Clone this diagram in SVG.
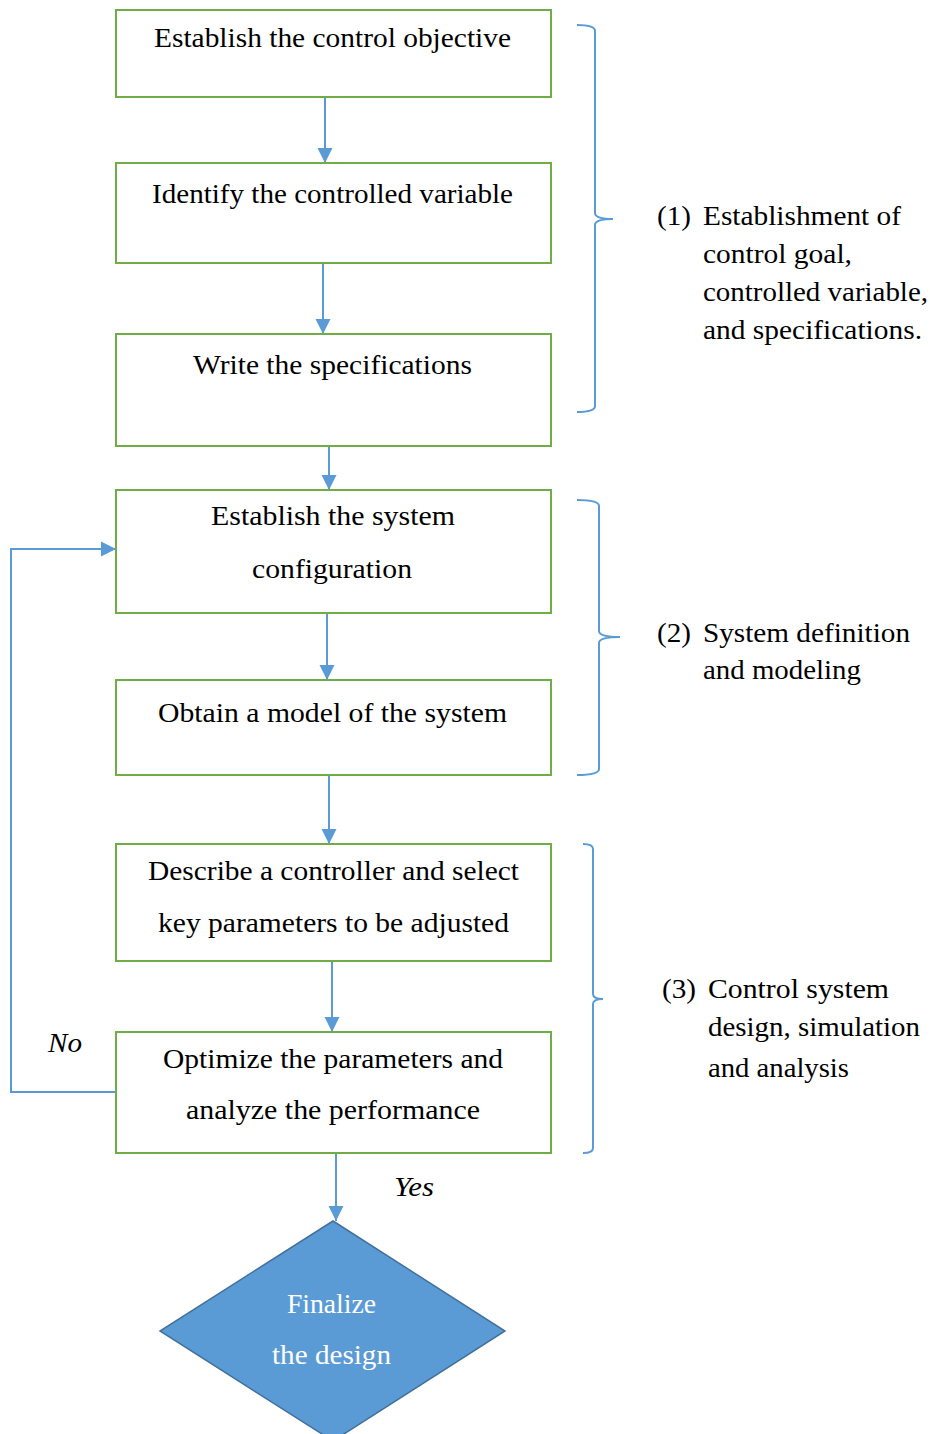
<svg xmlns="http://www.w3.org/2000/svg" width="930" height="1434" viewBox="0 0 930 1434">
<defs>
<style>
.box{fill:#fff;stroke:#70AD47;stroke-width:2}
text{font-family:'Liberation Serif','DejaVu Serif',serif}
.t{font-size:28px;fill:#000}
.lb{font-size:27px;fill:#000}
.it{font-size:27px;font-style:italic;fill:#000}
.wt{font-size:27px;fill:#fff}
.c{fill:none;stroke:#5B9BD5;stroke-width:2}
.br{fill:none;stroke:#5B9BD5;stroke-width:2}
</style>
<marker id="ah" markerWidth="16" markerHeight="16" viewBox="0 0 16 16" refX="15" refY="8" orient="auto" markerUnits="userSpaceOnUse">
<path d="M0,0.5 L15,8 L0,15.5 Z" fill="#5B9BD5"/>
</marker>
</defs>
<rect width="930" height="1434" fill="#fff"/>

<g id="connectors">
<line class="c" x1="325" y1="97" x2="325" y2="163" marker-end="url(#ah)"/>
<line class="c" x1="323" y1="263" x2="323" y2="334" marker-end="url(#ah)"/>
<line class="c" x1="329" y1="446" x2="329" y2="490" marker-end="url(#ah)"/>
<line class="c" x1="327" y1="613" x2="327" y2="680" marker-end="url(#ah)"/>
<line class="c" x1="329" y1="775" x2="329" y2="844" marker-end="url(#ah)"/>
<line class="c" x1="332" y1="961" x2="332" y2="1032" marker-end="url(#ah)"/>
<line class="c" x1="336" y1="1153" x2="336" y2="1221" marker-end="url(#ah)"/>
<polyline class="c" points="116,1092 11,1092 11,549 116,549" marker-end="url(#ah)"/>
<text class="it" font-family="Liberation Serif" x="48" y="1052" textLength="34" lengthAdjust="spacingAndGlyphs">No</text>
<text class="it" font-family="Liberation Serif" x="394" y="1196" textLength="40" lengthAdjust="spacingAndGlyphs">Yes</text>
</g>

<g id="n1">
<rect class="box" x="116" y="10" width="435" height="87"/>
<text class="t" font-family="Liberation Serif" x="154" y="47" textLength="357" lengthAdjust="spacingAndGlyphs">Establish the control objective</text>
</g>
<g id="n2">
<rect class="box" x="116" y="163" width="435" height="100"/>
<text class="t" font-family="Liberation Serif" x="152" y="203" textLength="361" lengthAdjust="spacingAndGlyphs">Identify the controlled variable</text>
</g>
<g id="n3">
<rect class="box" x="116" y="334" width="435" height="112"/>
<text class="t" font-family="Liberation Serif" x="193" y="374" textLength="279" lengthAdjust="spacingAndGlyphs">Write the specifications</text>
</g>
<g id="n4">
<rect class="box" x="116" y="490" width="435" height="123"/>
<text class="t" font-family="Liberation Serif" x="211" y="525" textLength="244" lengthAdjust="spacingAndGlyphs">Establish the system</text>
<text class="t" font-family="Liberation Serif" x="252" y="578" textLength="160" lengthAdjust="spacingAndGlyphs">configuration</text>
</g>
<g id="n5">
<rect class="box" x="116" y="680" width="435" height="95"/>
<text class="t" font-family="Liberation Serif" x="158" y="722" textLength="349" lengthAdjust="spacingAndGlyphs">Obtain a model of the system</text>
</g>
<g id="n6">
<rect class="box" x="116" y="844" width="435" height="117"/>
<text class="t" font-family="Liberation Serif" x="148" y="880" textLength="371" lengthAdjust="spacingAndGlyphs">Describe a controller and select</text>
<text class="t" font-family="Liberation Serif" x="158" y="932" textLength="351" lengthAdjust="spacingAndGlyphs">key parameters to be adjusted</text>
</g>
<g id="n7">
<rect class="box" x="116" y="1032" width="435" height="121"/>
<text class="t" font-family="Liberation Serif" x="163" y="1068" textLength="340" lengthAdjust="spacingAndGlyphs">Optimize  the parameters and</text>
<text class="t" font-family="Liberation Serif" x="186" y="1119" textLength="294" lengthAdjust="spacingAndGlyphs">analyze the performance</text>
</g>
<g id="n8">
<polygon points="333,1221 505,1331 333,1441 160,1331" fill="#5B9BD5" stroke="#41719C" stroke-width="1.5"/>
<text class="wt" font-family="Liberation Serif" x="287" y="1313" textLength="89" lengthAdjust="spacingAndGlyphs">Finalize</text>
<text class="wt" font-family="Liberation Serif" x="272" y="1364" textLength="119" lengthAdjust="spacingAndGlyphs">the design</text>
</g>

<g id="brace1">
<path class="br" d="M577,25 Q595,25 595,31 L595,213 Q595,219 613,219 Q595,219 595,225 L595,406 Q595,412 577,412"/>
<text class="lb" font-family="Liberation Serif" x="657" y="225" textLength="34" lengthAdjust="spacingAndGlyphs">(1)</text>
<text class="lb" font-family="Liberation Serif" x="703" y="225" textLength="198" lengthAdjust="spacingAndGlyphs">Establishment of</text>
<text class="lb" font-family="Liberation Serif" x="703" y="263" textLength="149" lengthAdjust="spacingAndGlyphs">control goal,</text>
<text class="lb" font-family="Liberation Serif" x="703" y="301" textLength="225" lengthAdjust="spacingAndGlyphs">controlled variable,</text>
<text class="lb" font-family="Liberation Serif" x="703" y="339" textLength="219" lengthAdjust="spacingAndGlyphs">and specifications.</text>
</g>
<g id="brace2">
<path class="br" d="M577,500 Q599,500 599,506 L599,631 Q599,637 620,637 Q599,637 599,643 L599,769 Q599,775 577,775"/>
<text class="lb" font-family="Liberation Serif" x="657" y="642" textLength="34" lengthAdjust="spacingAndGlyphs">(2)</text>
<text class="lb" font-family="Liberation Serif" x="703" y="642" textLength="207" lengthAdjust="spacingAndGlyphs">System definition</text>
<text class="lb" font-family="Liberation Serif" x="703" y="679" textLength="158" lengthAdjust="spacingAndGlyphs">and modeling</text>
</g>
<g id="brace3">
<path class="br" d="M583,844 Q593,844 593,849 L593,994 Q593,999 603,999 Q593,999 593,1004 L593,1148 Q593,1153 583,1153"/>
<text class="lb" font-family="Liberation Serif" x="662" y="998" textLength="34" lengthAdjust="spacingAndGlyphs">(3)</text>
<text class="lb" font-family="Liberation Serif" x="708" y="998" textLength="181" lengthAdjust="spacingAndGlyphs">Control system</text>
<text class="lb" font-family="Liberation Serif" x="708" y="1036" textLength="212" lengthAdjust="spacingAndGlyphs">design, simulation</text>
<text class="lb" font-family="Liberation Serif" x="708" y="1077" textLength="141" lengthAdjust="spacingAndGlyphs">and analysis</text>
</g>
</svg>
